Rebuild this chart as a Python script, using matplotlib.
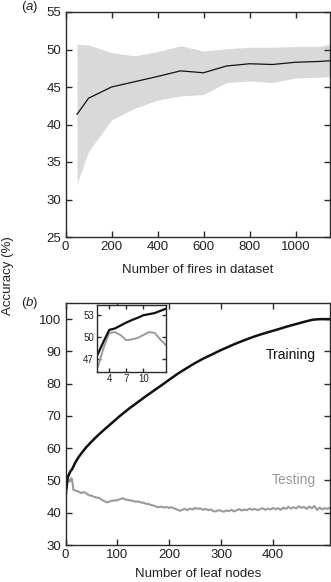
import matplotlib
matplotlib.use("Agg")
import matplotlib.pyplot as plt

plt.rcParams['font.family'] = ['Liberation Sans', 'DejaVu Sans']
plt.rcParams['mathtext.fontset'] = 'custom'
plt.rcParams['mathtext.it'] = 'Liberation Sans:italic'
plt.rcParams['mathtext.rm'] = 'Liberation Sans'

# ---- Panel (a) data ----
fires_n = [50, 100, 200, 300, 400, 500, 600, 700, 800, 900, 1000, 1100, 1150]
fires_mean = [41.35, 43.5, 45.0, 45.7, 46.4, 47.15, 46.9, 47.8, 48.1, 48.0, 48.3, 48.4, 48.5]
fires_upper = [50.7, 50.6, 49.6, 49.15, 49.7, 50.5, 49.8, 50.1, 50.3, 50.3, 50.4, 50.4, 50.7]
fires_lower = [32.1, 36.4, 40.6, 42.15, 43.25, 43.8, 44.0, 45.6, 45.8, 45.6, 46.2, 46.3, 46.4]

# ---- Panel (b) data ----
train_x = [2, 3, 4, 5, 6, 7, 8, 9, 10, 11, 12, 13, 14, 19, 25, 32, 40, 50, 60, 75, 90, 105,
           122, 138, 154, 170, 186, 202, 218, 234, 250, 266, 283, 299, 315, 331, 347, 363,
           379, 395, 411, 427, 444, 460, 476, 486, 495, 511]
train_y = [47.7, 49.4, 51.0, 51.2, 51.6, 52.0, 52.35, 52.65, 53.0, 53.15, 53.3, 53.6, 53.9,
           55.6, 57.2, 58.7, 60.3, 62.0, 63.6, 65.8, 67.9, 70.0, 72.2, 74.1, 76.0, 77.8,
           79.6, 81.45, 83.25, 84.85, 86.4, 87.8, 89.1, 90.35, 91.5, 92.6, 93.6, 94.55,
           95.4, 96.15, 96.9, 97.7, 98.45, 99.15, 99.8, 99.95, 100.0, 100.0]

test_x = [2, 3, 4, 5, 6, 7, 8, 9, 10, 11, 12, 13, 14] + list(range(15, 515, 5))
test_y = [46.0, 48.5, 50.6, 50.7, 50.3, 49.6, 49.7, 49.9, 50.3, 50.7, 50.6, 49.7, 48.9,
          47.2, 46.8, 46.6, 46.1, 46.4, 46.0, 45.4, 45.3, 44.9, 44.7, 44.6, 44.0, 43.6, 43.2,
          43.5, 43.7, 43.8, 43.9, 44.2, 44.5, 44.1, 44.0, 43.8, 43.7, 43.4, 43.5, 43.2, 43.1,
          42.8, 42.7, 42.4, 42.2, 41.9, 41.7, 41.9, 41.6, 41.8, 41.5, 41.7, 41.3, 41.0, 40.6,
          40.9, 41.2, 40.8, 41.3, 41.0, 41.5, 41.2, 41.4, 40.9, 41.2, 40.8, 41.0, 40.5, 40.4,
          40.8, 40.6, 40.3, 40.7, 40.5, 40.9, 40.4, 40.8, 41.1, 40.7, 41.0, 40.8, 41.3, 40.9,
          41.2, 40.8, 41.1, 41.4, 40.9, 41.3, 41.0, 41.5, 41.1, 41.4, 40.9, 41.6, 41.2, 41.8,
          41.3, 41.7, 41.4, 42.0, 41.5, 41.8, 41.2, 41.9, 41.4, 42.1, 40.9, 41.6, 41.0, 41.4,
          41.2, 41.5]

inset_n = 13  # first points shown in inset (leaf nodes 2..14)

W, H = 331, 582
fig = plt.figure(figsize=(W / 100, H / 100), dpi=100)

def fx(px):
    return px / W

def fy(py):
    return 1 - py / H

spine_c = '#2a2a2a'
fs = 9.5

def style(ax, size=fs, length=4):
    for s in ax.spines.values():
        s.set_color(spine_c)
        s.set_linewidth(1.0)
    ax.tick_params(direction='in', top=True, right=True, length=length, width=1.0,
                   color=spine_c, labelsize=size, pad=3, labelcolor='#222222')

# Panel (a)
ax1 = fig.add_axes([fx(65.5), fy(237), fx(330 - 65.5), (237 - 12) / H])
ax1.fill_between(fires_n, fires_lower, fires_upper, color='#d9d9d9', linewidth=0)
ax1.plot(fires_n, fires_mean, color='#111111', lw=0.9)
ax1.set_xlim(0, 1150)
ax1.set_ylim(25, 55)
ax1.set_xticks([0, 200, 400, 600, 800, 1000])
ax1.set_yticks([25, 30, 35, 40, 45, 50, 55])
style(ax1)
ax1.set_xlabel('Number of fires in dataset', fontsize=fs, labelpad=8, color='#222222')

# Panel (b)
ax2 = fig.add_axes([fx(65.5), fy(545), fx(330 - 65.5), (545 - 303) / H])
ax2.plot(test_x, test_y, color='#9a9a9a', lw=1.5)
ax2.plot(train_x, train_y, color='#111111', lw=1.8)
ax2.set_xlim(0, 510)
ax2.set_ylim(30, 105)
ax2.set_xticks([0, 100, 200, 300, 400])
ax2.set_yticks([30, 40, 50, 60, 70, 80, 90, 100])
style(ax2)
ax2.set_xlabel('Number of leaf nodes', fontsize=fs, labelpad=5, color='#222222')
ax2.text(483, 89, 'Training', ha='right', va='center', fontsize=10, color='#111111')
ax2.text(483, 50.2, 'Testing', ha='right', va='center', fontsize=10, color='#9a9a9a')

# Inset
ax3 = fig.add_axes([fx(96.7), fy(371.7), fx(166 - 96.7), (371.7 - 305) / H])
ax3.plot(test_x[:inset_n], test_y[:inset_n], color='#9a9a9a', lw=1.4)
ax3.plot(train_x[:inset_n], train_y[:inset_n], color='#111111', lw=1.6)
ax3.set_xlim(1.8, 14)
ax3.set_ylim(45.3, 54.4)
ax3.set_xticks([4, 7, 10])
ax3.set_yticks([47, 50, 53])
style(ax3, size=7, length=3)
ax3.tick_params(pad=2)

# Panel labels and shared y label
fig.text(fx(21), fy(7), r'($\mathit{a}$)', fontsize=9.5, va='center', ha='left', color='#222222')
fig.text(fx(21), fy(303), r'($\mathit{b}$)', fontsize=9.5, va='center', ha='left', color='#222222')
fig.text(fx(8), fy(276), 'Accuracy (%)', rotation=90, fontsize=fs, va='center', ha='center',
         color='#222222')

fig.savefig('out.png', dpi=100)
